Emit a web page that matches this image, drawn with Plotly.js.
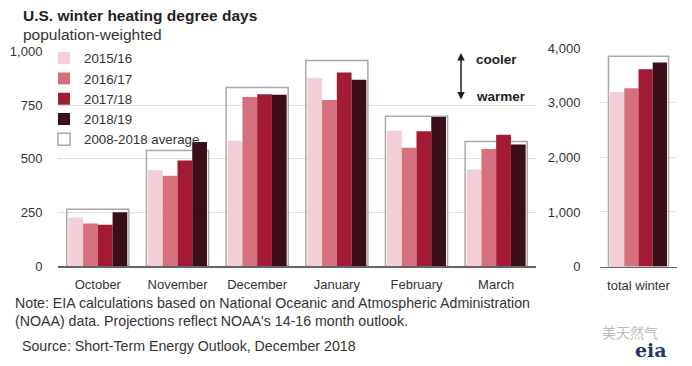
<!DOCTYPE html>
<html><head><meta charset="utf-8">
<script src="https://cdn.plot.ly/plotly-3.0.1.min.js"></script>
<style>html,body{margin:0;padding:0;background:#fff}</style>
</head><body><div id="chart" style="width:692px;height:366px"></div>
<script>
const months = ["October","November","December","January","February","March"];
const seriesNames = ["2015/16","2016/17","2017/18","2018/19"];
const v2015 = [226, 447, 584, 877, 631, 450];
const v2016 = [198, 421, 788, 774, 551, 545];
const v2017 = [192, 492, 801, 902, 628, 612];
const v2018 = [251, 578, 798, 868, 695, 567];
const avgMonthly = [265, 539, 832, 958, 698, 581];
const totalCat = ["total winter"];
const totals = [3200, 3266, 3615, 3738];
const avgTotal = [3853];
const avgName = "2008-2018 average";
const colors = ["#f1cfd4","#d6707e","#a21a33","#3b0f17"];

const monthly = [v2015, v2016, v2017, v2018];
const font = "Liberation Sans, Arial, sans-serif";
const traces = [];
const bw = 0.185, bw2 = 0.185;
traces.push({type:"bar", x:months, y:avgMonthly, name:avgName, width:0.78, offset:-0.39,
  marker:{color:"rgba(255,255,255,0)", line:{color:"#a9a9a9", width:1.5}}, legendrank:5, xaxis:"x", yaxis:"y"});
traces.push({type:"bar", x:totalCat, y:avgTotal, name:avgName, width:0.78, offset:-0.39, showlegend:false,
  marker:{color:"rgba(255,255,255,0)", line:{color:"#a9a9a9", width:1.5}}, xaxis:"x2", yaxis:"y2"});
for (let i=0;i<4;i++){
  traces.push({type:"bar", x:months, y:monthly[i], name:seriesNames[i], width:bw, offset:-0.37+i*bw,
    marker:{color:colors[i], line:{width:0}}, legendrank:i+1, xaxis:"x", yaxis:"y"});
  traces.push({type:"bar", x:totalCat, y:[totals[i]], name:seriesNames[i], width:bw2, offset:-0.37+i*bw2, showlegend:false,
    marker:{color:colors[i], line:{width:0}}, xaxis:"x2", yaxis:"y2"});
}
const axCommon = {showline:false, zeroline:false, tickfont:{family:font, size:13, color:"#333"}};
const layout = {
  width:692, height:366, margin:{l:0,r:0,t:0,b:0},
  paper_bgcolor:"#fff", plot_bgcolor:"rgba(0,0,0,0)",
  barmode:"overlay", showlegend:true,
  font:{family:font, color:"#333"},
  xaxis:{domain:[58/692, 536/692], showgrid:false, showline:true, linecolor:"#666", linewidth:1.5,
    ticks:"outside", ticklen:6, tickcolor:"rgba(0,0,0,0)", tickfont:{family:font,size:13,color:"#333"}, zeroline:false},
  yaxis:{domain:[1-266/366, 1-51.5/366], range:[0,1000], tickvals:[0,250,500,750,1000], tickformat:",d",
    showgrid:true, gridcolor:"#e0e0e0", gridwidth:1, ticks:"outside", ticklen:12, tickcolor:"rgba(0,0,0,0)", ...axCommon},
  xaxis2:{domain:[600/692, 677/692], anchor:"y2", showgrid:false, showline:true, linecolor:"#666", linewidth:1.5,
    ticks:"outside", ticklen:6, tickcolor:"rgba(0,0,0,0)", tickfont:{family:font,size:13,color:"#333"}, zeroline:false},
  yaxis2:{domain:[1-266.5/366, 1-48.3/366], anchor:"x2", range:[0,4000], tickvals:[0,1000,2000,3000,4000], tickformat:",d",
    showgrid:true, gridcolor:"#e0e0e0", gridwidth:1, ticks:"outside", ticklen:16, tickcolor:"rgba(0,0,0,0)", ...axCommon},
  legend:{x:44/692, y:1-43/366, xanchor:"left", yanchor:"top", bgcolor:"rgba(255,255,255,0)",
    font:{family:font, size:13.3, color:"#333"}, tracegroupgap:0, itemwidth:30, traceorder:"normal"},
  annotations:[
    {xref:"paper", yref:"paper", x:21/692, y:1-15/366, xanchor:"left", yanchor:"middle", showarrow:false,
      text:"<b>U.S. winter heating degree days</b>", font:{family:font, size:15.5, color:"#222"}},
    {xref:"paper", yref:"paper", x:21/692, y:1-34/366, xanchor:"left", yanchor:"middle", showarrow:false,
      text:"population-weighted", font:{family:font, size:15.5, color:"#333"}},
    {xref:"paper", yref:"paper", x:474/692, y:1-59/366, xanchor:"left", yanchor:"middle", showarrow:false,
      text:"<b>cooler</b>", font:{family:font, size:13.5, color:"#222"}},
    {xref:"paper", yref:"paper", x:474/692, y:1-97/366, xanchor:"left", yanchor:"middle", showarrow:false,
      text:"<b>warmer</b>", font:{family:font, size:13.5, color:"#222"}},
    {xref:"paper", yref:"paper", x:461/692, y:1-53/366, ax:0, ay:48, text:"", showarrow:true,
      arrowhead:2, arrowside:"end+start", arrowsize:1, arrowwidth:1.5, arrowcolor:"#222"},
    {xref:"paper", yref:"paper", x:13/692, y:1-303/366, xanchor:"left", yanchor:"middle", showarrow:false,
      text:"Note: EIA calculations based on National Oceanic and Atmospheric Administration", font:{family:font, size:14.2, color:"#333"}},
    {xref:"paper", yref:"paper", x:13/692, y:1-321/366, xanchor:"left", yanchor:"middle", showarrow:false,
      text:"(NOAA) data. Projections reflect NOAA's 14-16 month outlook.", font:{family:font, size:14.2, color:"#333"}},
    {xref:"paper", yref:"paper", x:20/692, y:1-346/366, xanchor:"left", yanchor:"middle", showarrow:false,
      text:"Source: Short-Term Energy Outlook, December 2018", font:{family:font, size:14.2, color:"#333"}},
    {xref:"paper", yref:"paper", x:600/692, y:1-332/366, xanchor:"left", yanchor:"middle", showarrow:false,
      text:"美天然气", font:{family:"Noto Sans CJK SC", size:14, color:"#bbb"}},
    {xref:"paper", yref:"paper", x:633/692, y:1-350/366, xanchor:"left", yanchor:"middle", showarrow:false,
      text:"<b>eia</b>", font:{family:"DejaVu Serif, serif", size:19, color:"#1f3864"}}
  ]
};
Plotly.newPlot("chart", traces, layout, {displayModeBar:false, staticPlot:true});
</script></body></html>
